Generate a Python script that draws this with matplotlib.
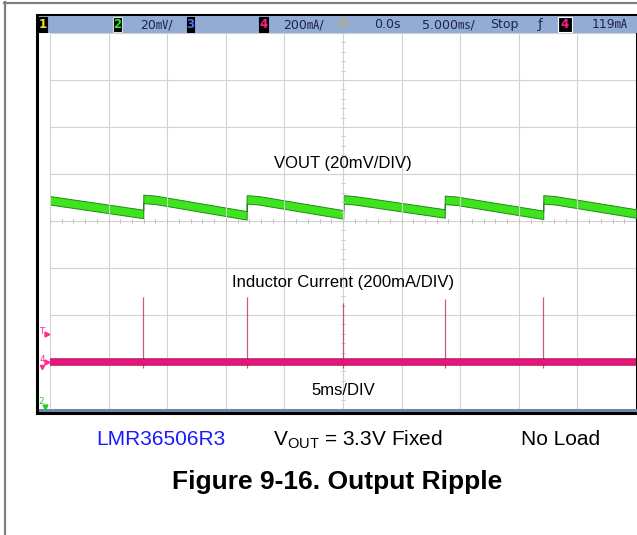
import matplotlib.pyplot as plt
from matplotlib.patches import Rectangle

plt.rcParams['font.family'] = ['Liberation Sans', 'DejaVu Sans']
plt.rcParams['mathtext.fontset'] = 'custom'
plt.rcParams['mathtext.rm'] = 'Liberation Sans'

# time in ms (5 ms/div, 10 div), amplitude in screen divisions (8 div)
vout_t = [0, 7.96, 7.96, 9.0, 16.78, 16.78, 17.8, 25.03, 25.03, 26.0,
          33.68, 33.68, 34.7, 42.09, 42.09, 43.1, 50]
vout_v = [4.44, 4.15, 4.47, 4.45, 4.12, 4.46, 4.44, 4.14, 4.46, 4.44,
          4.16, 4.45, 4.43, 4.13, 4.46, 4.44, 4.16]

ind_t = [0, 50]
ind_v = [1.0, 1.0]
spike_t = [7.96, 16.78, 25.03, 33.68, 42.09]
spike_top = [2.38, 2.38, 2.25, 2.34, 2.38]

header_txt = ['20㎷/', '200㎃/', '0.0s', '5.000㎳/', 'Stop', '119㎃']
header_x = [140, 283, 374, 422, 490, 592]

fig = plt.figure(figsize=(6.37, 5.35), dpi=100)

# page decoration in pixel coordinates
bg = fig.add_axes([0, 0, 1, 1])
bg.set_xlim(0, 637)
bg.set_ylim(535, 0)
bg.axis('off')
bg.plot([4, 637], [2.5, 2.5], color='#808080', lw=1.6)
bg.plot([4.5, 4.5], [2, 535], color='#808080', lw=1.6)
bg.add_patch(Rectangle((37, 15), 600, 398, facecolor='white', edgecolor='black', lw=2.2))
bg.add_patch(Rectangle((38.5, 16), 598, 17, facecolor='#93acd4', edgecolor='none'))
bg.add_patch(Rectangle((38.5, 408.5), 598, 3.5, facecolor='#6f86aa', edgecolor='none'))

hfont = ['DejaVu Sans', 'Noto Sans CJK JP']
boxes = [(39, 8, '1', '#e6e61a', 'black'), (113, 9, '2', '#22ee22', '#dddddd'),
         (187, 7, '3', '#4a6cff', 'black'), (259, 9, '4', '#ff1f80', 'black'),
         (558, 14, '4', '#ff1f80', 'white')]
for bx, bw, lab, col, ec in boxes:
    bg.add_patch(Rectangle((bx, 17), bw, 15, facecolor='black', edgecolor=ec, lw=0.8))
    bg.text(bx + bw / 2, 24.8, lab, color=col, fontsize=8.5, fontweight='bold',
            ha='center', va='center', family=hfont)
for s, x in zip(header_txt, header_x):
    bg.text(x, 24.8, s, color='#1c2448', fontsize=9, ha='left', va='center', family=hfont)
bg.text(343, 24.5, '☼', color='#c9a84a', fontsize=11, ha='center', va='center',
        family=['DejaVu Sans'])
bg.text(540, 24.5, 'ƒ', color='#1c2448', fontsize=9.5, ha='center', va='center', family=hfont)

# channel markers on the left edge
bg.text(42, 331, 'T', color='#ff2a8a', fontsize=6.5, ha='center', va='center', family=hfont)
bg.plot([47], [334], marker='>', color='#ff2a8a', ms=3.5)
bg.text(42, 360, '4', color='#ff2a8a', fontsize=6.5, ha='center', va='center', family=hfont)
bg.plot([47], [362], marker='>', color='#ff2a8a', ms=3.5)
bg.plot([42], [367], marker='v', color='#ff2a8a', ms=3)
bg.text(41, 401, '2', color='#22cc22', fontsize=6.5, ha='center', va='center', family=hfont)
bg.plot([45], [407], marker='v', color='#22cc22', ms=3.5)

# scope screen
ax = fig.add_axes([50 / 637, (535 - 409) / 535, 586 / 637, 376 / 535])
ax.set_xlim(0, 50)
ax.set_ylim(0, 8)
ax.set_xticks(range(0, 51, 5))
ax.set_yticks(range(0, 9))
ax.tick_params(length=0, labelbottom=False, labelleft=False)
ax.grid(True, color='#d2d2d2', lw=0.8)
for sp in ax.spines.values():
    sp.set_visible(False)
ax.set_facecolor('none')

# minor ticks on the centre axes
for i in range(51):
    ax.plot([i, i], [3.96, 4.04], color='#bcbcbc', lw=0.6)
for i in range(41):
    ax.plot([24.8, 25.2], [i * 0.2, i * 0.2], color='#cccccc', lw=0.6)

ax.vlines(spike_t, 0.88, spike_top, color='#c43a76', lw=0.9, alpha=0.85)
ax.plot(ind_t, ind_v, color='#b0105a', lw=5.4, solid_capstyle='butt')
ax.plot(ind_t, ind_v, color='#e8157a', lw=4.0, solid_capstyle='butt')
ax.fill_between(vout_t, [v - 0.09 for v in vout_v], [v + 0.09 for v in vout_v],
                facecolor='#3ee41e', edgecolor='#1f8a12', lw=0.7)

ax.text(25, 5.23, 'VOUT (20mV/DIV)', fontsize=12, ha='center', va='center')
ax.text(25, 2.70, 'Inductor Current (200mA/DIV)', fontsize=12, ha='center', va='center')
ax.text(25, 0.40, '5ms/DIV', fontsize=12, ha='center', va='center')

# caption
bg.text(96, 445, 'LMR36506R3', color='#1a1aff', fontsize=15, ha='left', va='baseline')
bg.text(273, 445, r'V$_{\rm OUT}$ = 3.3V Fixed', fontsize=15, ha='left', va='baseline')
bg.text(521, 445, 'No Load', fontsize=15, ha='left', va='baseline')
bg.text(337, 489, 'Figure 9-16. Output Ripple', fontsize=19, fontweight='bold',
        ha='center', va='baseline')

fig.savefig('out.png', dpi=100)
